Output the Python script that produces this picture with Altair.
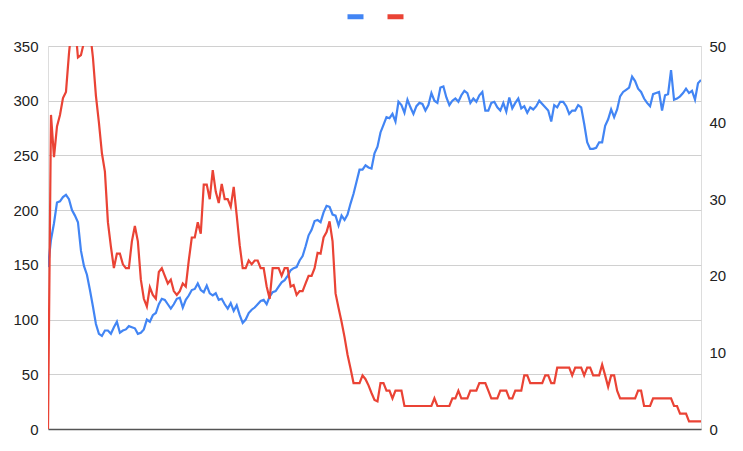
import altair as alt
import pandas as pd

# Series values (one value per time step)
blue_values = [148,173,188,207,208,212,214,210,200,195,
189,163,149,141,127,112,96,87,85,90,
90,87,93,98,88,90,91,94,93,92,
87,88,91,100,98,104,106,114,119,118,
114,110,114,119,120,111,118,122,127,128,
133,127,125,131,124,122,124,118,119,114,
110,115,108,113,104,97,100,106,109,111,
114,117,118,114,121,125,126,130,134,136,
140,145,147,148,154,158,167,177,182,190,
191,189,198,204,203,196,195,186,195,191,
196,206,215,226,237,237,241,239,238,252,
258,271,278,285,284,288,281,299,296,289,
301,294,288,295,298,297,291,296,307,300,
298,312,313,303,296,300,302,299,305,309,
307,298,302,299,305,308,291,291,298,299,
294,291,298,290,303,293,298,302,293,295,
289,294,292,295,300,297,294,291,281,296,
294,299,299,295,288,291,291,296,294,279,
262,256,256,257,262,262,277,283,292,285,
292,304,308,310,312,322,318,311,308,302,
298,295,306,307,308,291,305,306,328,301,
302,304,307,311,307,309,301,316,319]

red_values = [0,41,35.5,39.5,41,43.2,44,49,53,53,
48.5,48.8,50.5,53,52,48.5,43.5,40,36,33.6,
27,23.8,21,22.9,22.9,21.5,21,21,24.5,26.5,
24.5,19.5,17,16,18.5,17.5,17,20.5,21,20,
19,19.5,18,17.5,18,19,18.6,22,25,25,
27,25.5,31.9,31.9,30,33.8,31,29.5,32,30,
30,29,31.6,27.9,24,21,21,22,21.5,22,
22,21,21,18.6,17,21,21,21,20,21,
21,18.6,18.8,17.5,18,18,19,20,20,21,
23,22.9,25,25.7,27.1,24.5,17.7,15.8,14,12,
9.7,7.9,6,6,6,7,6.5,5.7,4.7,3.8,
3.6,6,6,5,5,4,5,5,5,3,
3,3,3,3,3,3,3,3,3,4,
3,3,3,3,3,4,4,5,4,4,
4,5,5,5,6,6,6,5,4,4,
4,5,5,5,4,4,5,5,5,7,
7,6,6,6,6,6,7,7,6,6,
8,8,8,8,8,7,8,8,8,7,
8,8,7,7,7,8.4,7,5.5,7,7,
5,4,4,4,4,4,4,5,5,3,
3,3,4,4,4,4,4,4,4,3,
3,2,2,2,1,1,1,1,1]

series_names = ["A", "B"]
series_colors = ["#4285F4", "#EA4335"]
left_ticks = [0, 50, 100, 150, 200, 250, 300, 350]
right_ticks = [0, 10, 20, 30, 40, 50]

n = len(blue_values)
df = pd.concat([
    pd.DataFrame({"idx": range(n), "value": blue_values, "series": series_names[0]}),
    pd.DataFrame({"idx": range(len(red_values)), "value": red_values, "series": series_names[1]}),
])

FONT = "Liberation Sans"

x_enc = alt.X("idx:Q",
              scale=alt.Scale(domain=[0, n - 1], nice=False, zero=False),
              axis=alt.Axis(labels=False, ticks=False, grid=False, domain=True,
                            domainColor="#555555", domainWidth=1.5, title=None))

color_enc = alt.Color("series:N",
                      scale=alt.Scale(domain=series_names, range=series_colors),
                      legend=alt.Legend(orient="none", legendX=297, legendY=-40,
                                        direction="horizontal", title=None,
                                        symbolType="stroke", symbolSize=256,
                                        symbolStrokeWidth=5, labelExpr="''",
                                        labelOffset=0, columnPadding=3))

base = alt.Chart(df)

blue_line = base.transform_filter(alt.datum.series == series_names[0]).mark_line(
    strokeWidth=2.2, clip=True
).encode(
    x=x_enc,
    y=alt.Y("value:Q",
            scale=alt.Scale(domain=[0, 350], nice=False),
            axis=alt.Axis(orient="left", values=left_ticks, title=None, ticks=False,
                          domain=False, grid=True, gridColor="#d0d0d0",
                          labelPadding=10, labelFontSize=15, labelColor="#222222",
                          labelFont=FONT)),
    color=color_enc,
)

red_line = base.transform_filter(alt.datum.series == series_names[1]).mark_line(
    strokeWidth=2.2, clip=True
).encode(
    x=x_enc,
    y=alt.Y("value:Q",
            scale=alt.Scale(domain=[0, 50], nice=False),
            axis=alt.Axis(orient="right", values=right_ticks, title=None, ticks=False,
                          domain=False, grid=False,
                          labelPadding=8, labelFontSize=15, labelColor="#222222",
                          labelFont=FONT)),
    color=color_enc,
)

chart = alt.layer(blue_line, red_line).resolve_scale(y="independent").properties(
    width=653, height=383, autosize="none",
    padding={"left": 40, "top": 38, "right": 34, "bottom": 20},
).configure_view(strokeWidth=0).configure(font=FONT, background="white")

chart.save("out.html", embed_options={"renderer": "svg", "actions": False})
